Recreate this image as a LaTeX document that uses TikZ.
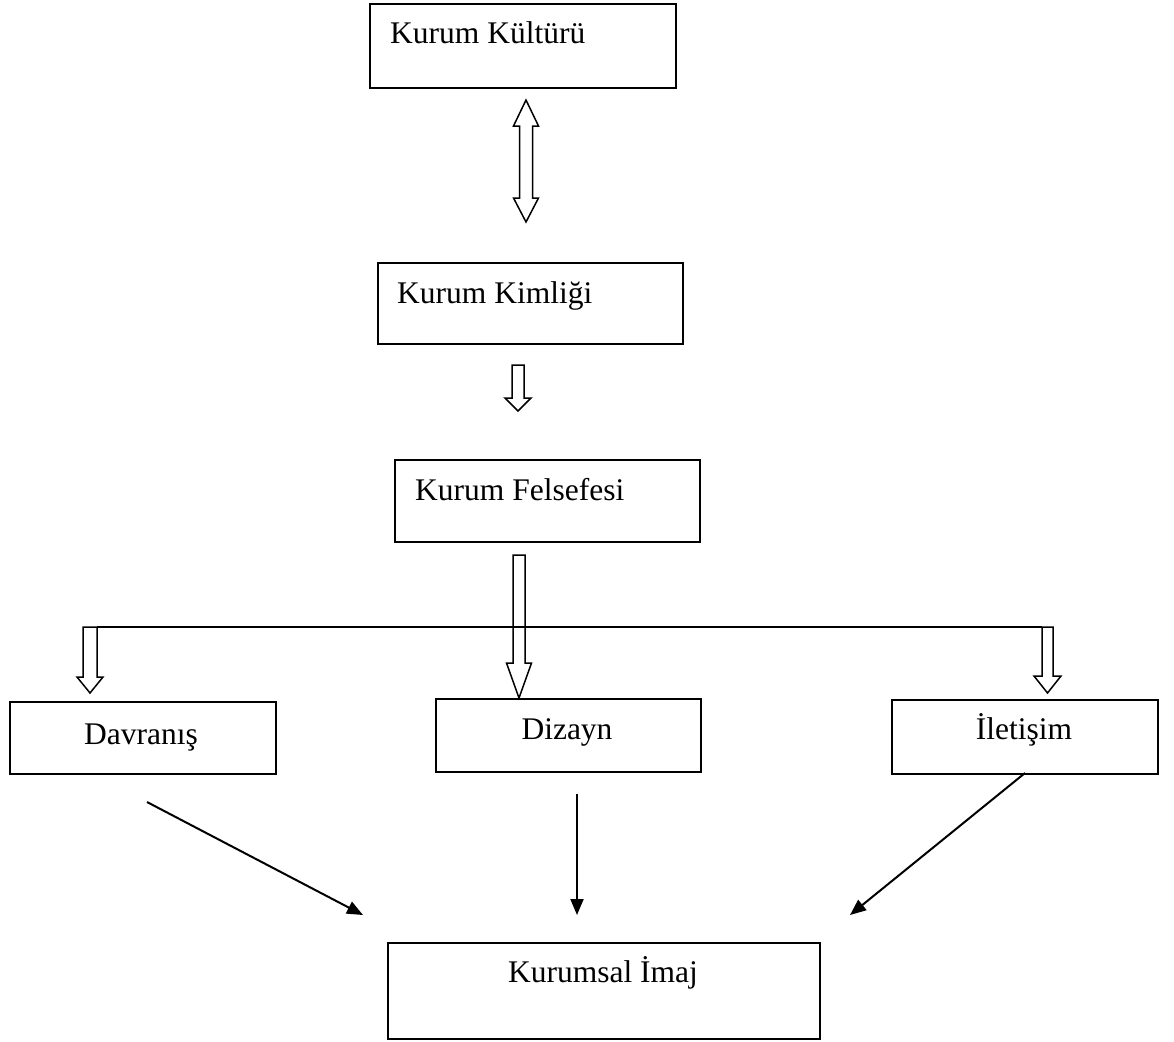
\documentclass[tikz,border=0pt]{standalone}
\usepackage{fontspec}
\setmainfont{Liberation Serif}
\usetikzlibrary{arrows.meta}
\begin{document}
\begin{tikzpicture}[x=1pt,y=-1pt,
  box/.style={draw, line width=1.8pt, rectangle, inner sep=0pt, anchor=north west},
  lbl/.style={font=\fontsize{31.5}{36}\selectfont, inner sep=0pt},
  hollow/.style={draw, line width=1.5pt, fill=white, line join=miter},
  conn/.style={line width=2pt, -{Triangle[length=16pt,width=13pt]}}]
\useasboundingbox (0,0) rectangle (1174,1041);
% boxes
\node[box, minimum width=306pt, minimum height=84pt] (kultur) at (369,3) {};
\node[box, minimum width=305pt, minimum height=81pt] (kimlik) at (377,262) {};
\node[box, minimum width=305pt, minimum height=82pt] (felsefe) at (394,459) {};
\node[box, minimum width=266pt, minimum height=72pt] (davranis) at (9,701) {};
\node[box, minimum width=265pt, minimum height=73pt] (dizayn) at (435,698) {};
\node[box, minimum width=266pt, minimum height=74pt] (iletisim) at (891,699) {};
\node[box, minimum width=432pt, minimum height=96pt] (imaj) at (387,942) {};
% texts
\node[lbl, anchor=base west] (t1) at (390,44) {Kurum Kültürü};
\node[lbl, anchor=base west] (t2) at (397,303) {Kurum Kimliği};
\node[lbl, anchor=base west] (t3) at (415,500) {Kurum Felsefesi};
\node[lbl, anchor=base] (t4) at (141,744) {Davranış};
\node[lbl, anchor=base] (t5) at (567,739) {Dizayn};
\node[lbl, anchor=base] (t6) at (1024,739) {İletişim};
\node[lbl, anchor=base] (t7) at (603,982) {Kurumsal İmaj};
% hollow arrows
\draw[hollow] (526,100) -- (538.5,126) -- (532.5,126) -- (532.5,198) -- (538.5,198) -- (526,222) -- (513.5,198) -- (519.5,198) -- (519.5,126) -- (513.5,126) -- cycle;
\draw[hollow] (512,365) -- (524,365) -- (524,398) -- (531,398) -- (518,411) -- (505,398) -- (512,398) -- cycle;
\draw[hollow] (513,555) -- (525,555) -- (525,663) -- (531.5,663) -- (519,698) -- (506.5,663) -- (513,663) -- cycle;
\draw[hollow] (83,627) -- (97,627) -- (97,677) -- (103,677) -- (90,693) -- (77,677) -- (83,677) -- cycle;
\draw[hollow] (1042,627) -- (1053,627) -- (1053,676) -- (1061,676) -- (1047.5,693) -- (1034,676) -- (1042,676) -- cycle;
% horizontal line
\coordinate (hl) at (97,627);
\coordinate (hr) at (1042,627);
\draw[line width=1.5pt] (hl) -- (hr);
% connectors to image
\coordinate (a1) at (147,802);
\coordinate (b1) at (363,915);
\coordinate (a2) at (577,794);
\coordinate (b2) at (577,915);
\coordinate (a3) at (1025,773);
\coordinate (b3) at (850,915);
\draw[conn] (a1) -- (b1);
\draw[conn] (a2) -- (b2);
\draw[conn] (a3) -- (b3);
\end{tikzpicture}
\end{document}
